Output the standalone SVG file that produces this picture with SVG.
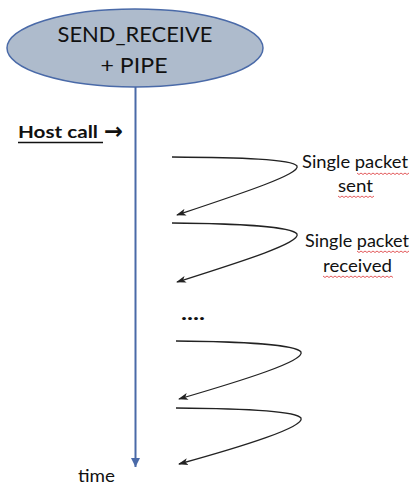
<svg xmlns="http://www.w3.org/2000/svg" width="418" height="485" viewBox="0 0 418 485">
  <style>
    .lbl { font-family: Lato, "Liberation Sans", Arial, sans-serif; fill: #111; }
    .packet { fill: none; stroke: #222; stroke-width: 1.3; marker-end: url(#head); }
    .squiggle { fill: none; stroke: #e0484a; stroke-width: 0.9; }
  </style>
  <defs>
    <marker id="head" viewBox="0 0 10 8" refX="9" refY="4" markerWidth="10" markerHeight="8" markerUnits="userSpaceOnUse" orient="auto">
      <path d="M0,0.5 L10,4 L0,7.5 L2.5,4 Z" fill="#222"/>
    </marker>
    <marker id="timeHead" viewBox="0 0 10 10" refX="5" refY="10" markerWidth="9" markerHeight="9" markerUnits="userSpaceOnUse" orient="0">
      <path d="M0,0 L10,0 L5,10 Z" fill="#4a6aa8"/>
    </marker>
  </defs>

  <!-- title node -->
  <g id="node-send-receive">
    <ellipse cx="135" cy="48" rx="128" ry="39" fill="#aebbcc" stroke="#4a6aa8" stroke-width="1.5"/>
    <text class="lbl" x="135" y="42" text-anchor="middle" font-size="21.5" textLength="155" lengthAdjust="spacingAndGlyphs">SEND_RECEIVE</text>
    <text class="lbl" x="134" y="73" text-anchor="middle" font-size="21.5" textLength="67" lengthAdjust="spacingAndGlyphs">+ PIPE</text>
  </g>

  <!-- host call label -->
  <g id="node-host-call">
    <text class="lbl" x="18" y="138" font-size="17" font-weight="bold" textLength="80" lengthAdjust="spacingAndGlyphs">Host call</text>
    <line x1="18" y1="142.5" x2="103" y2="142.5" stroke="#111" stroke-width="1.5"/>
    <text x="104" y="139" font-family="'DejaVu Sans', sans-serif" font-size="23" font-weight="bold" fill="#111" textLength="19" lengthAdjust="spacingAndGlyphs">→</text>
  </g>

  <!-- packet labels -->
  <g id="node-sent">
    <text class="lbl" x="355" y="168" text-anchor="middle" font-size="17.5" textLength="106" lengthAdjust="spacingAndGlyphs">Single packet</text>
    <text class="lbl" x="355.5" y="192" text-anchor="middle" font-size="17.5" textLength="35" lengthAdjust="spacingAndGlyphs">sent</text>
  </g>
  <g id="node-received">
    <text class="lbl" x="357" y="247" text-anchor="middle" font-size="17.5" textLength="104" lengthAdjust="spacingAndGlyphs">Single packet</text>
    <text class="lbl" x="357.5" y="272" text-anchor="middle" font-size="17.5" textLength="69" lengthAdjust="spacingAndGlyphs">received</text>
  </g>

  <!-- spelling squiggles -->
  <g id="squiggles">
    <path class="squiggle" d="M357,173 l2,1.5 l2,-1.5 l2,1.5 l2,-1.5 l2,1.5 l2,-1.5 l2,1.5 l2,-1.5 l2,1.5 l2,-1.5 l2,1.5 l2,-1.5 l2,1.5 l2,-1.5 l2,1.5 l2,-1.5 l2,1.5 l2,-1.5 l2,1.5 l2,-1.5 l2,1.5 l2,-1.5 l2,1.5 l2,-1.5 l2,1.5 l2,-1.5"/>
    <path class="squiggle" d="M338,196 l2,1.5 l2,-1.5 l2,1.5 l2,-1.5 l2,1.5 l2,-1.5 l2,1.5 l2,-1.5 l2,1.5 l2,-1.5 l2,1.5 l2,-1.5 l2,1.5 l2,-1.5 l2,1.5 l2,-1.5 l2,1.5 l2,-1.5"/>
    <path class="squiggle" d="M357,251 l2,1.5 l2,-1.5 l2,1.5 l2,-1.5 l2,1.5 l2,-1.5 l2,1.5 l2,-1.5 l2,1.5 l2,-1.5 l2,1.5 l2,-1.5 l2,1.5 l2,-1.5 l2,1.5 l2,-1.5 l2,1.5 l2,-1.5 l2,1.5 l2,-1.5 l2,1.5 l2,-1.5 l2,1.5 l2,-1.5 l2,1.5 l2,-1.5"/>
    <path class="squiggle" d="M323,276 l2,1.5 l2,-1.5 l2,1.5 l2,-1.5 l2,1.5 l2,-1.5 l2,1.5 l2,-1.5 l2,1.5 l2,-1.5 l2,1.5 l2,-1.5 l2,1.5 l2,-1.5 l2,1.5 l2,-1.5 l2,1.5 l2,-1.5 l2,1.5 l2,-1.5 l2,1.5 l2,-1.5 l2,1.5 l2,-1.5 l2,1.5 l2,-1.5 l2,1.5 l2,-1.5 l2,1.5 l2,-1.5 l2,1.5 l2,-1.5 l2,1.5 l2,-1.5 l2,1.5"/>
  </g>

  <!-- ellipsis and axis label -->
  <g id="node-ellipsis">
    <text class="lbl" x="181" y="320" font-size="18" font-weight="bold" textLength="24" lengthAdjust="spacingAndGlyphs">....</text>
  </g>
  <g id="node-time">
    <text class="lbl" x="78" y="482" font-size="18" textLength="37" lengthAdjust="spacingAndGlyphs">time</text>
  </g>

  <!-- connectors -->
  <g id="connectors">
    <line x1="135.5" y1="87" x2="135.5" y2="467" stroke="#4a6aa8" stroke-width="2" marker-end="url(#timeHead)"/>
    <path class="packet" d="M172,157 C240,157.5 292,159 297,166 C301,174 240,194 177,215"/>
    <path class="packet" d="M172,223 C240,223.5 292,227 297,234 C301,243 240,262 177,282"/>
    <path class="packet" d="M176,341 C244,341.5 296,345 301,352 C305,361 244,380 179,399"/>
    <path class="packet" d="M176,408 C244,408.5 296,411 301,418 C305,427 244,446 179,464"/>
  </g>
</svg>
